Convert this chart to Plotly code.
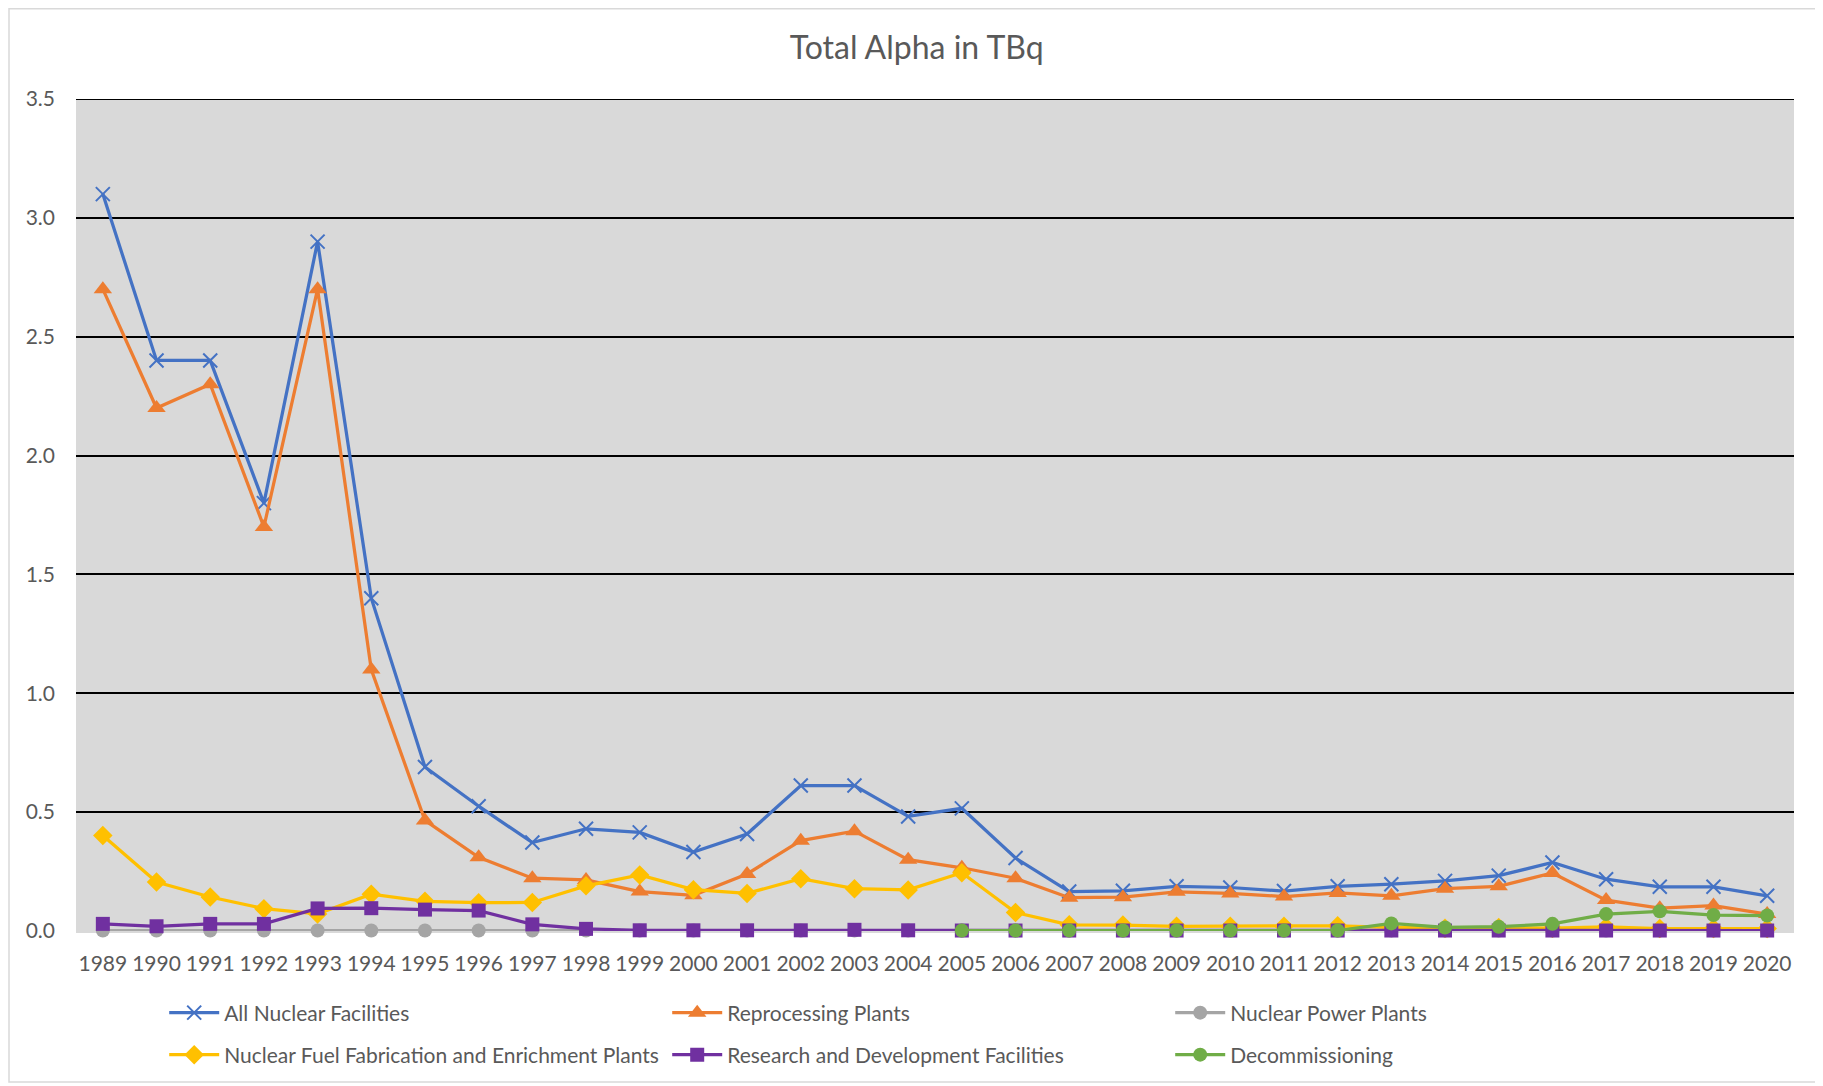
import plotly.graph_objects as go

years = [str(y) for y in range(1989, 2021)]

all_nuclear = [3.1, 2.4, 2.4, 1.8, 2.9, 1.4, 0.69, 0.525, 0.372, 0.43, 0.415, 0.332, 0.408,
               0.612, 0.612, 0.482, 0.516, 0.307, 0.166, 0.169, 0.188, 0.183, 0.168, 0.188,
               0.197, 0.211, 0.233, 0.288, 0.218, 0.186, 0.186, 0.148]
reprocessing = [2.7, 2.2, 2.3, 1.7, 2.7, 1.1, 0.465, 0.31, 0.222, 0.215, 0.166, 0.15, 0.24,
                0.38, 0.42, 0.3, 0.266, 0.222, 0.14, 0.142, 0.165, 0.158, 0.145, 0.16,
                0.148, 0.178, 0.188, 0.244, 0.13, 0.096, 0.107, 0.071]
power_plants = [0.002] * 32
fuel_fab = [0.402, 0.206, 0.143, 0.094, 0.072, 0.155, 0.125, 0.119, 0.12, 0.19, 0.236, 0.174,
            0.158, 0.22, 0.178, 0.173, 0.245, 0.078, 0.026, 0.025, 0.02, 0.02, 0.02, 0.022,
            0.015, 0.012, 0.015, 0.012, 0.017, 0.01, 0.01, 0.01]
research = [0.03, 0.02, 0.03, 0.03, 0.095, 0.096, 0.09, 0.086, 0.028, 0.009, 0.003, 0.003,
            0.003, 0.003, 0.005, 0.003, 0.002, 0.002, 0.002, 0.002, 0.002, 0.002, 0.002, 0.002,
            0.002, 0.002, 0.002, 0.002, 0.002, 0.002, 0.002, 0.002]
decommissioning = [None] * 16 + [0.002, 0.002, 0.002, 0.002, 0.002, 0.002, 0.002, 0.002,
                                 0.032, 0.015, 0.018, 0.03, 0.071, 0.083, 0.067, 0.065]

y_ticks = [0.0, 0.5, 1.0, 1.5, 2.0, 2.5, 3.0, 3.5]
y_labels = ["0.0", "0.5", "1.0", "1.5", "2.0", "2.5", "3.0", "3.5"]

FONT = "Lato"
TXT = "#595959"

series = [
    ("All Nuclear Facilities", all_nuclear, "#4472C4", "x-thin", 14, "legend"),
    ("Reprocessing Plants", reprocessing, "#ED7D31", "triangle-up", 16, "legend"),
    ("Nuclear Power Plants", power_plants, "#A5A5A5", "circle", 14, "legend"),
    ("Nuclear Fuel Fabrication and Enrichment Plants", fuel_fab, "#FFC000", "diamond", 15, "legend2"),
    ("Research and Development Facilities", research, "#7030A0", "square", 14, "legend2"),
    ("Decommissioning", decommissioning, "#70AD47", "circle", 14, "legend2"),
]

fig = go.Figure()
for name, vals, color, sym, size, leg in series:
    marker = dict(symbol=sym, size=size, color=color)
    if sym == "x-thin":
        marker["line"] = dict(color=color, width=2)
    fig.add_trace(go.Scatter(
        x=years, y=vals, name=name, mode="lines+markers",
        line=dict(color=color, width=3.25), marker=marker, legend=leg,
        connectgaps=False, cliponaxis=False,
    ))

# figure sits inside the page's 8px body margin
W, H = 1815, 1078
L, R, T, B = 68, 29, 91, 155
pw, ph = W - L - R, H - T - B

def px_x(p):
    return (p - L) / pw

def px_y(p):
    return (H - B - p) / ph

# outer chart border
fig.add_shape(type="rect", xref="paper", yref="paper",
              x0=px_x(1), x1=px_x(1812), y0=px_y(1074), y1=px_y(0.75),
              line=dict(color="#D9D9D9", width=1.5), fillcolor="rgba(0,0,0,0)", layer="below")
# top gridline (plotly clips the gridline at the range edge)
fig.add_shape(type="line", xref="paper", yref="y", x0=0, x1=1,
              y0=y_ticks[-1], y1=y_ticks[-1], line=dict(color="black", width=2), layer="below")

legend_common = dict(
    orientation="h", xanchor="left", yanchor="middle",
    font=dict(family=FONT, size=21, color=TXT),
    itemwidth=50, entrywidth=438, entrywidthmode="pixels",
    bgcolor="rgba(0,0,0,0)", traceorder="normal",
)

fig.update_layout(
    width=W, height=H,
    margin=dict(l=L, r=R, t=T, b=B, autoexpand=False),
    paper_bgcolor="white", plot_bgcolor="#D9D9D9",
    title=dict(text="Total Alpha in TBq", x=908.7 / W, xref="container", xanchor="center",
               y=1 - 40 / H, yref="container", yanchor="middle",
               font=dict(family=FONT, size=32, color=TXT)),
    xaxis=dict(type="category", range=[-0.5, len(years) - 0.5], showgrid=False,
               zeroline=False, showline=False, tickangle=0,
               tickfont=dict(family=FONT, size=21, color=TXT), ticklabelstandoff=18),
    yaxis=dict(range=[0, 3.5], tickmode="array", tickvals=y_ticks, ticktext=y_labels,
               showgrid=True, gridcolor="black", gridwidth=2,
               zeroline=True, zerolinecolor="#D9D9D9", zerolinewidth=3, showline=False,
               tickfont=dict(family=FONT, size=21, color=TXT), ticklabelstandoff=20),
    legend=dict(x=px_x(156.2), y=px_y(1005), **legend_common),
    legend2=dict(x=px_x(156.2), y=px_y(1047), **legend_common),
    showlegend=True,
)

fig.write_html("out.html")
